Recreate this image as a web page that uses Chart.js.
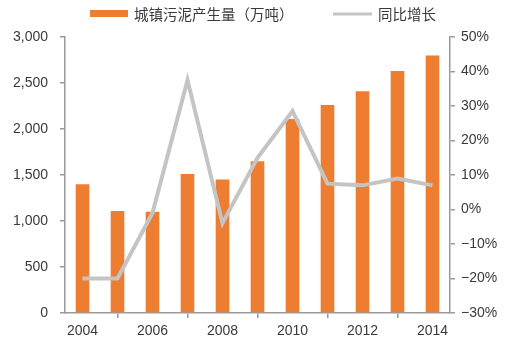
<!DOCTYPE html>
<html>
<head>
<meta charset="utf-8">
<script src="https://cdn.jsdelivr.net/npm/chart.js@4"></script>
<style>
  html, body { margin: 0; padding: 0; background: #fff; }
  #wrap { width: 516px; height: 343px; }
</style>
</head>
<body>
<div id="wrap"><canvas id="sludgeChart" width="516" height="343"></canvas></div>
<script>
// years on the x axis
const years = ['2004', '2005', '2006', '2007', '2008', '2009', '2010', '2011', '2012', '2013', '2014'];
// sludge output, 10k tonnes
const sludgeOutput = [1400, 1110, 1100, 1510, 1450, 1650, 2110, 2260, 2410, 2630, 2800];
// year on year growth, %
const yoyGrowth = [-20, -20, -1, 37.5, -4, 15, 28.5, 7.5, 7, 9, 7];

const barLabel = '城镇污泥产生量（万吨）';
const lineLabel = '同比增长';

const orange = '#ED7D31';
const grey = '#C4C4C4';
const axisGrey = '#9a9a9a';
const textColor = '#3a3a3a';
const tickFont = { family: 'Liberation Sans, Arial, sans-serif', size: 14 };

// legend drawn by hand so the swatches can be a box and a thin line
const topLegend = {
    id: 'topLegend',
    afterDraw(chart) {
        const ctx = chart.ctx;
        ctx.save();
        ctx.font = '14.5px "Noto Sans CJK SC", sans-serif';
        ctx.textBaseline = 'middle';
        ctx.fillStyle = orange;
        ctx.fillRect(90, 10, 38, 7);
        ctx.fillStyle = textColor;
        ctx.fillText(barLabel, 134, 14);
        ctx.strokeStyle = grey;
        ctx.lineWidth = 3;
        ctx.beginPath();
        ctx.moveTo(333, 14);
        ctx.lineTo(372, 14);
        ctx.stroke();
        ctx.fillText(lineLabel, 378, 14);
        ctx.restore();
    }
};

const ctx = document.getElementById('sludgeChart').getContext('2d');
new Chart(ctx, {
    type: 'bar',
    data: {
        labels: years,
        datasets: [{
            type: 'line',
            label: lineLabel,
            data: yoyGrowth,
            yAxisID: 'y1',
            borderColor: grey,
            borderWidth: 4,
            pointRadius: 0,
            tension: 0,
            fill: false,
            order: 0
        }, {
            type: 'bar',
            label: barLabel,
            data: sludgeOutput,
            yAxisID: 'y',
            backgroundColor: orange,
            barPercentage: 0.75,
            categoryPercentage: 0.52,
            order: 1
        }]
    },
    options: {
        responsive: false,
        animation: false,
        layout: { padding: { top: 37, left: 0, right: 0, bottom: 0 } },
        plugins: {
            legend: { display: false },
            tooltip: { enabled: false }
        },
        scales: {
            x: {
                afterFit: (scale) => { scale.height = 30; },
                grid: {
                    offset: true,
                    drawOnChartArea: false,
                    drawTicks: true,
                    tickLength: 5,
                    color: axisGrey,
                    lineWidth: 1.5
                },
                border: { color: axisGrey, width: 1.5 },
                ticks: {
                    autoSkip: false,
                    maxRotation: 0,
                    padding: 5,
                    color: textColor,
                    font: tickFont,
                    // only every other year gets a label and a tick mark
                    callback: function(value, index) {
                        return index % 2 === 0 ? years[index] : null;
                    }
                }
            },
            y: {
                position: 'left',
                min: 0,
                max: 3000,
                afterFit: (scale) => { scale.width = 65; },
                grid: {
                    drawOnChartArea: false,
                    tickLength: 5,
                    color: axisGrey,
                    lineWidth: 1.5
                },
                border: { color: axisGrey, width: 1.5 },
                ticks: {
                    stepSize: 500,
                    padding: 12,
                    color: textColor,
                    font: tickFont,
                    callback: (v) => v.toLocaleString('en-US')
                }
            },
            y1: {
                position: 'right',
                min: -30,
                max: 50,
                afterFit: (scale) => { scale.width = 66; },
                grid: {
                    drawOnChartArea: false,
                    tickLength: 5,
                    color: axisGrey,
                    lineWidth: 1.5
                },
                border: { color: axisGrey, width: 1.5 },
                ticks: {
                    stepSize: 10,
                    padding: 6,
                    color: textColor,
                    font: tickFont,
                    callback: (v) => (v < 0 ? '\u2212' + Math.abs(v) : v) + '%'
                }
            }
        }
    },
    plugins: [topLegend]
});
</script>
</body>
</html>
